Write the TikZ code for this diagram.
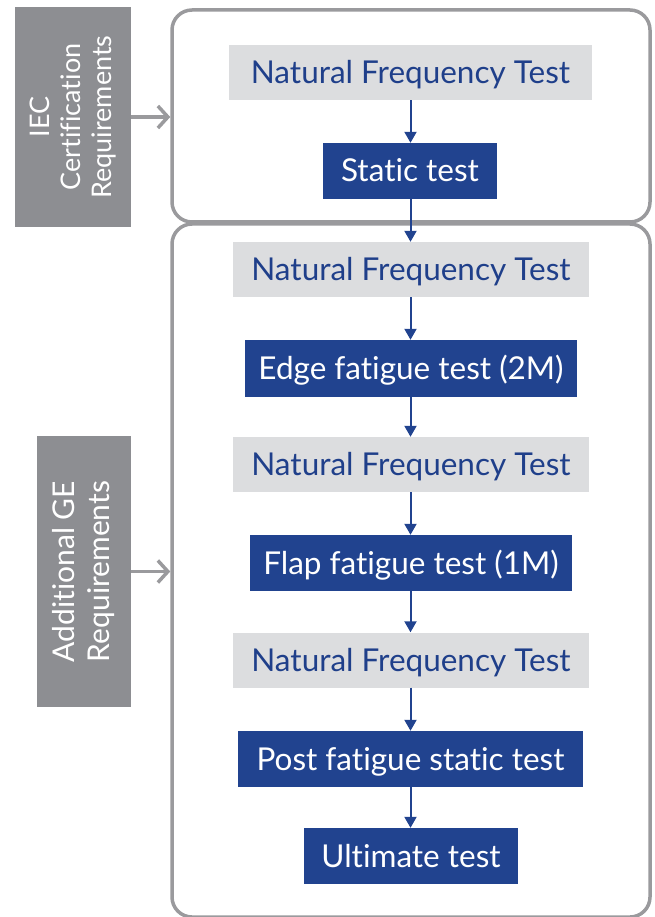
\documentclass[tikz,border=0pt]{standalone}
\usepackage{fontspec}
\setmainfont{Lato}[Ligatures={NoCommon,NoRare}]
\usetikzlibrary{arrows.meta}
\definecolor{geblue}{HTML}{21438F}
\definecolor{getext}{HTML}{1F3F8A}
\definecolor{lgray}{HTML}{DCDDDF}
\definecolor{mgray}{HTML}{8D8E92}
\definecolor{bgray}{HTML}{9A9A9D}
\begin{document}
\begin{tikzpicture}[x=1pt,y=-1pt,
  stepfont/.style={font=\fontsize{31.5}{36}\selectfont,text height=22pt,text depth=0pt},
  nft/.style={stepfont,fill=lgray,text=getext,inner sep=0pt,minimum height=55pt},
  testbox/.style={stepfont,fill=geblue,text=white,inner sep=0pt,minimum height=56pt},
  reqbox/.style={fill=mgray,inner sep=0pt},
  reqtext/.style={rotate=90,text=white,align=center},
  container/.style={draw=bgray,line width=3.5pt,rounded corners=20pt,inner sep=0pt},
  flow/.style={draw=geblue,line width=2pt,-{Triangle[length=11pt,width=12pt]}},
  feed/.style={draw=bgray,line width=3.5pt,-{Straight Barb[length=10pt,width=22pt]}}
]
\useasboundingbox (0,0) rectangle (654,917);
% containers
\node[container,minimum width=478pt,minimum height=212pt] (top) at (411,116) {};
\node[container,minimum width=478pt,minimum height=693pt] (bot) at (411,570.5) {};
% requirement boxes
\node[reqbox,minimum width=116pt,minimum height=220pt] (iec) at (73,117) {};
\node[reqtext,font=\fontsize{27}{31}\selectfont] (iecT) at (iec) {IEC\\Certification\\Requirements};
\node[reqbox,minimum width=94pt,minimum height=271pt] (ge) at (84,571.5) {};
\node[reqtext,font=\fontsize{30}{35}\selectfont] (geT) at (ge) {Additional GE\\Requirements};
% steps
\node[nft,minimum width=363pt] (n1) at (410.5,72.5) {Natural Frequency Test};
\node[testbox,minimum width=174pt] (s1) at (410,171) {Static test};
\node[nft,minimum width=356pt] (n2) at (411,269.5) {Natural Frequency Test};
\node[testbox,minimum width=332pt,minimum height=57pt] (s2) at (411,368.5) {Edge fatigue test (2M)};
\node[nft,minimum width=356pt] (n3) at (411,464.5) {Natural Frequency Test};
\node[testbox,minimum width=322pt] (s3) at (411,563) {Flap fatigue test (1M)};
\node[nft,minimum width=356pt] (n4) at (411,660) {Natural Frequency Test};
\node[testbox,minimum width=345pt] (s4) at (410.5,759) {Post fatigue static test};
\node[testbox,minimum width=214pt] (s5) at (411,856) {Ultimate test};
% flow arrows
\coordinate (ax) at (410.5,0);
\foreach \a/\b in {n1/s1,s1/n2,n2/s2,s2/n3,n3/s3,s3/n4,n4/s4,s4/s5}{
  \draw[flow] (ax |- \a.south) -- (ax |- \b.north);
}
% feed arrows
\draw[feed] (iec.east) -- (top.west |- iec.east);
\draw[feed] (ge.east) -- (bot.west |- ge.east);
\end{tikzpicture}
\end{document}
